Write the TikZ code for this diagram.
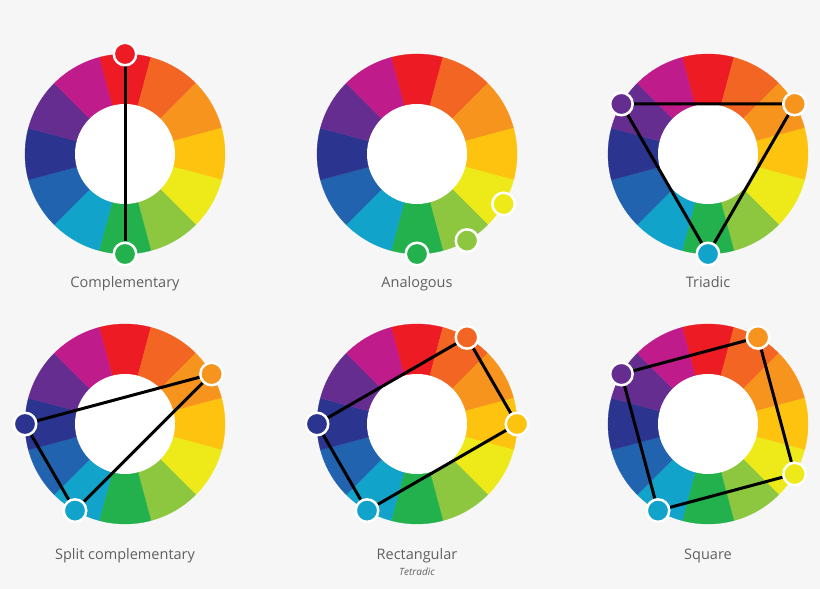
\documentclass[tikz,border=0pt]{standalone}
\usepackage{fontspec}
\setmainfont{Open Sans}
\usetikzlibrary{calc}

\definecolor{bg}{HTML}{F6F6F6}
\definecolor{labelgray}{HTML}{606060}
\definecolor{cred}{HTML}{ED1C24}
\definecolor{credorange}{HTML}{F26522}
\definecolor{corange}{HTML}{F7941D}
\definecolor{cyelloworange}{HTML}{FDC30F}
\definecolor{cyellow}{HTML}{EEE918}
\definecolor{cyellowgreen}{HTML}{8DC63F}
\definecolor{cgreen}{HTML}{22B14C}
\definecolor{ccyan}{HTML}{12A3CB}
\definecolor{cblue}{HTML}{2163AE}
\definecolor{cdarkblue}{HTML}{2B3590}
\definecolor{cpurple}{HTML}{652D90}
\definecolor{cmagenta}{HTML}{BF1B8B}

\pgfdeclarelayer{dots}
\pgfsetlayers{main,dots}

\tikzset{
    pick/.style={circle, draw=white, line width=2.5pt, minimum size=22.5pt, inner sep=0pt},
    link/.style={black, line width=3pt},
    title/.style={text=labelgray, font=\fontsize{14.5}{17}\selectfont, anchor=base},
    subtitle/.style={text=labelgray, font=\itshape\fontsize{10}{12}\selectfont, anchor=base},
}

\begin{document}
\begin{tikzpicture}[x=1pt,y=1pt]

    % background
    \fill[bg] (0,0) rectangle (820,589);
    \useasboundingbox (0,0) rectangle (820,589);

    % wheel centres
    \coordinate (W1) at (125,435);
    \coordinate (W2) at (417,435);
    \coordinate (W3) at (708,435);
    \coordinate (W4) at (125,165);
    \coordinate (W5) at (417,165);
    \coordinate (W6) at (708,165);

    % wheels
    \foreach \w in {W1,W2,W3,W4,W5,W6}{
        \foreach \col [count=\i from 0] in {cred,credorange,corange,cyelloworange,cyellow,cyellowgreen,cgreen,ccyan,cblue,cdarkblue,cpurple,cmagenta}{
            \fill[\col, draw=\col, line width=0.3pt] (\w) -- ++({105-30*\i}:100) arc[start angle={105-30*\i}, end angle={75-30*\i}, radius=100] -- cycle;
        }
        \fill[white] (\w) circle[radius=50];
    }

    % dots
    \begin{pgfonlayer}{dots}
    \node[pick, fill=cred] (cr) at ($(W1)+(90:100)$) {}; % complementary
    \node[pick, fill=cgreen] (cg) at ($(W1)+(-90:100)$) {};
    \node[pick, fill=cgreen] (ag) at ($(W2)+(-90:100)$) {}; % analogous
    \node[pick, fill=cyellowgreen] (ayg) at ($(W2)+(-60:100)$) {};
    \node[pick, fill=cyellow] (ay) at ($(W2)+(-30:100)$) {};
    \node[pick, fill=cpurple] (tp) at ($(W3)+(150:100)$) {}; % triadic
    \node[pick, fill=corange] (to) at ($(W3)+(30:100)$) {};
    \node[pick, fill=ccyan] (tc) at ($(W3)+(-90:100)$) {};
    \node[pick, fill=corange] (so) at ($(W4)+(30:100)$) {}; % split complementary
    \node[pick, fill=cdarkblue] (sb) at ($(W4)+(180:100)$) {};
    \node[pick, fill=ccyan] (sc) at ($(W4)+(-120:100)$) {};
    \node[pick, fill=credorange] (ro) at ($(W5)+(60:100)$) {}; % rectangular
    \node[pick, fill=cyelloworange] (ry) at ($(W5)+(0:100)$) {};
    \node[pick, fill=ccyan] (rc) at ($(W5)+(-120:100)$) {};
    \node[pick, fill=cdarkblue] (rb) at ($(W5)+(180:100)$) {};
    \node[pick, fill=corange] (qo) at ($(W6)+(60:100)$) {}; % square
    \node[pick, fill=cpurple] (qp) at ($(W6)+(150:100)$) {};
    \node[pick, fill=cyellow] (qy) at ($(W6)+(-30:100)$) {};
    \node[pick, fill=ccyan] (qc) at ($(W6)+(-120:100)$) {};
    \end{pgfonlayer}

    % links
    \draw[link] (cr) -- (cg); % red -> green
    \draw[link] (tp) -- (to) -- (tc) -- (tp); % purple -> orange -> cyan
    \draw[link] (sb) -- (so) -- (sc) -- (sb); % dark blue -> orange -> cyan
    \draw[link] (rb) -- (ro) -- (ry) -- (rc) -- (rb); % dark blue -> red orange -> yellow orange -> cyan
    \draw[link] (qp) -- (qo) -- (qy) -- (qc) -- (qp); % purple -> orange -> yellow -> cyan

    % labels
    \node[title] (l1) at (125,301.5) {Complementary};
    \node[title] (l2) at (417,301.5) {Analogous};
    \node[title] (l3) at (708,301.5) {Triadic};
    \node[title] (l4) at (125,29.5) {Split complementary};
    \node[title] (l5) at (417,29.5) {Rectangular};
    \node[subtitle] (l6) at (417,13.5) {Tetradic};
    \node[title] (l7) at (708,29.5) {Square};

\end{tikzpicture}
\end{document}
